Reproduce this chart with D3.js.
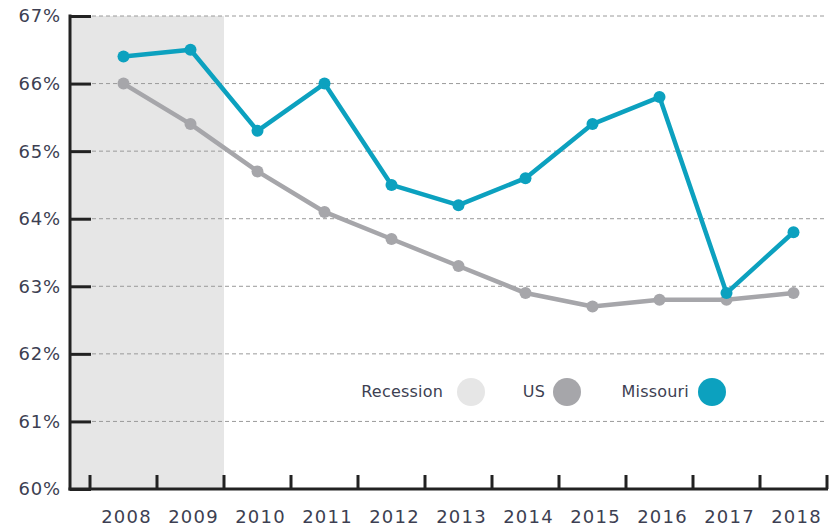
<!DOCTYPE html>
<html>
<head>
<meta charset="utf-8">
<script src="https://cdn.jsdelivr.net/npm/d3@7"></script>
<style>
	body { margin: 0; background: #fff; }
	text { font-family: "DejaVu Sans", sans-serif; fill: #3d3f52; }
</style>
</head>
<body>
<div id="chart"></div>
<script>
var years = [2008, 2009, 2010, 2011, 2012, 2013, 2014, 2015, 2016, 2017, 2018];
var missouri = [66.4, 66.5, 65.3, 66.0, 64.5, 64.2, 64.6, 65.4, 65.8, 62.9, 63.8];
var us = [66.0, 65.4, 64.7, 64.1, 63.7, 63.3, 62.9, 62.7, 62.8, 62.8, 62.9];
var recessionYears = [2008, 2009];
var yTicks = [60, 61, 62, 63, 64, 65, 66, 67];

var width = 836,
	height = 529;

var colors = {recession: "#e6e6e6", us: "#a6a6aa", missouri: "#0ca1bf"};

var svg = d3.select("#chart").append("svg")
	.attr("width", width)
	.attr("height", height);

var axisX = 70;

var x = d3.scaleBand()
	.domain(years)
	.range([90, 827]);

var y = d3.scaleLinear()
	.domain([60, 67])
	.range([489, 16]);

/* recession shading */
svg.append("rect")
	.attr("x", axisX)
	.attr("y", y(67))
	.attr("width", x(recessionYears[recessionYears.length - 1]) + x.bandwidth() - axisX)
	.attr("height", y(60) - y(67))
	.attr("fill", colors.recession);

/* grid lines */
svg.append("g")
	.selectAll("line")
	.data(yTicks.slice(1))
	.enter().append("line")
	.attr("x1", 92)
	.attr("x2", 827)
	.attr("y1", function(d) { return y(d); })
	.attr("y2", function(d) { return y(d); })
	.attr("stroke", "#9a9a9a")
	.attr("stroke-width", 1)
	.attr("stroke-dasharray", "4,3");

/* y axis */
var yAxis = svg.append("g")
	.attr("transform", "translate(" + axisX + ",0)")
	.call(d3.axisRight(y).tickValues(yTicks).tickSize(21).tickFormat(""));
yAxis.select(".domain").remove();
yAxis.selectAll(".tick line").attr("stroke", "#222").attr("stroke-width", 3);

svg.append("line")
	.attr("x1", axisX).attr("x2", axisX)
	.attr("y1", y(67) - 1.5).attr("y2", y(60) + 1.5)
	.attr("stroke", "#222").attr("stroke-width", 3);

svg.append("g")
	.selectAll("text")
	.data(yTicks)
	.enter().append("text")
	.attr("x", 61)
	.attr("y", function(d) { return y(d); })
	.attr("dy", "0.36em")
	.attr("text-anchor", "end")
	.style("font-size", "18px")
	.style("letter-spacing", "0.8px")
	.text(function(d) { return d + "%"; });

/* x axis */
var boundaries = years.map(function(d) { return x(d); }).concat([x.range()[1]]);

svg.append("line")
	.attr("x1", axisX - 1.5).attr("x2", 828)
	.attr("y1", y(60)).attr("y2", y(60))
	.attr("stroke", "#222").attr("stroke-width", 3);

svg.append("g")
	.selectAll("line")
	.data(boundaries)
	.enter().append("line")
	.attr("x1", function(d) { return d; })
	.attr("x2", function(d) { return d; })
	.attr("y1", y(60))
	.attr("y2", y(60) - 14)
	.attr("stroke", "#222")
	.attr("stroke-width", 3);

svg.append("g")
	.selectAll("text")
	.data(years)
	.enter().append("text")
	.attr("x", function(d) { return x(d) + x.bandwidth() / 2 + 3; })
	.attr("y", 523)
	.attr("text-anchor", "middle")
	.style("font-size", "18px")
	.style("letter-spacing", "1.2px")
	.text(function(d) { return d; });

/* lines */
var line = d3.line()
	.x(function(d, i) { return x(years[i]) + x.bandwidth() / 2; })
	.y(function(d) { return y(d); });

function drawSeries(values, color) {
	svg.append("path")
		.datum(values)
		.attr("fill", "none")
		.attr("stroke", color)
		.attr("stroke-width", 4.5)
		.attr("stroke-linejoin", "round")
		.attr("d", line);

	svg.append("g")
		.selectAll("circle")
		.data(values)
		.enter().append("circle")
		.attr("cx", function(d, i) { return x(years[i]) + x.bandwidth() / 2; })
		.attr("cy", function(d) { return y(d); })
		.attr("r", 6)
		.attr("fill", color);
}

drawSeries(us, colors.us);
drawSeries(missouri, colors.missouri);

/* legend */
var legend = [
	{label: "Recession", color: colors.recession, tx: 443, cx: 471},
	{label: "US", color: colors.us, tx: 545, cx: 567},
	{label: "Missouri", color: colors.missouri, tx: 689, cx: 712}
];

var lg = svg.append("g").selectAll("g")
	.data(legend)
	.enter().append("g");

lg.append("text")
	.attr("x", function(d) { return d.tx; })
	.attr("y", 391)
	.attr("dy", "0.36em")
	.attr("text-anchor", "end")
	.style("font-size", "16px")
	.style("letter-spacing", "0.2px")
	.text(function(d) { return d.label; });

lg.append("circle")
	.attr("cx", function(d) { return d.cx; })
	.attr("cy", 392)
	.attr("r", 14)
	.attr("fill", function(d) { return d.color; });
</script>
</body>
</html>
